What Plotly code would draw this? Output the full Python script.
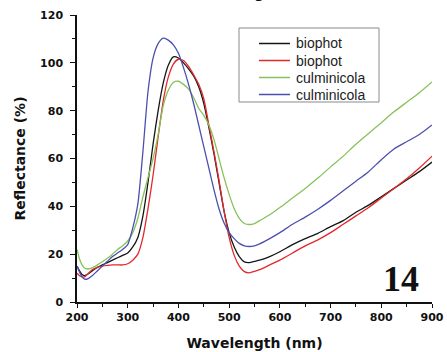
import plotly.graph_objects as go

wavelength = [200, 205, 210, 215, 220, 230, 240, 250, 260, 270, 280, 290, 300, 310, 320, 330, 340, 350,
              360, 370, 380, 390, 400, 410, 420, 430, 440, 450, 460, 470, 480, 490, 500, 510, 520, 530,
              540, 550, 560, 580, 600, 625, 650, 675, 700, 725, 750, 775, 800, 825, 850, 875, 900]

biophot_1 = [15, 13, 11.5, 11, 11.5, 13, 14.5, 15.5, 16.5, 17.5, 18.5, 19.5, 20.5, 23, 27, 36, 50, 66,
             80, 91.5, 99, 102.5, 102, 100, 97.5, 94.5, 90, 83, 73, 62, 50, 38, 29, 23, 19, 16.8,
             16.5, 17, 17.5, 19, 21, 24, 26.5, 28.7, 31.5, 34, 37.5, 40.5, 44, 47.5, 51, 54.5, 58.5]

biophot_2 = [12, 11, 10.5, 10.5, 11.5, 13.5, 14.5, 15, 15.3, 15.5, 15.5, 15.5, 16, 17.5, 20, 27, 39, 53,
             69, 84, 94, 99.5, 101.5, 101, 98.5, 95, 91, 85, 74, 63, 51, 38, 27, 19.5, 15, 12.7,
             12.2, 12.8, 13.5, 15.5, 17.5, 20.5, 23.5, 26, 29, 32.5, 36, 39.5, 43.5, 47.5, 51.5, 56, 61]

culminicola_1 = [22, 18, 15.5, 14.2, 13.8, 14.3, 15.5, 16.8, 18.3, 20, 22, 23.5, 25.5, 29, 35, 44, 52, 60,
                 70, 82, 88.5, 91.8, 92.3, 91, 89, 85.5, 81, 78, 74, 68, 60, 52, 45, 39, 35, 32.8,
                 32.4, 32.8, 34, 36.5, 39.5, 43.5, 47.5, 51.8, 56.5, 61, 66, 70.5, 75, 79.5, 83.5, 87.5, 92]

culminicola_2 = [15, 12.5, 10.5, 9.6, 9.6, 11, 13, 15, 17, 19, 20.5, 22, 24, 31, 41, 63, 88, 102,
                 108, 110.3, 109.5, 107.5, 104, 98, 91, 83, 74, 65, 56, 47, 39, 33, 29, 26.5, 24.5, 23.5,
                 23.2, 23.5, 24.3, 26.5, 29, 32.5, 35.5, 38.8, 42.5, 46.5, 50.5, 54.5, 59.5, 64, 67, 70, 74]

series_names = ["biophot", "biophot", "culminicola", "culminicola"]
series_values = [biophot_1, biophot_2, culminicola_1, culminicola_2]
series_colors = ["#151515", "#e2282b", "#86c25a", "#4b50ad"]

x_ticks = [200, 300, 400, 500, 600, 700, 800, 900]
y_ticks = [0, 20, 40, 60, 80, 100, 120]

W, H = 447, 352
ML, MR, MT, MB = 77, 15, 15, 50
PW, PH = W - ML - MR, H - MT - MB


def px_x(p):
    return (p - ML) / PW


def px_y(p):
    return 1 - (p - MT) / PH


fig = go.Figure()
for name, vals, col in zip(series_names, series_values, series_colors):
    fig.add_trace(go.Scatter(x=wavelength, y=vals, mode="lines", name=name, showlegend=False,
                             line=dict(color=col, width=1.3, shape="spline", smoothing=0.6)))

tickfont = dict(family="DejaVu Sans", size=11, color="#111", weight="bold")
titlefont = dict(family="DejaVu Sans", size=14, color="#111", weight="bold")

fig.update_layout(
    width=W, height=H,
    margin=dict(l=ML, r=MR, t=MT, b=MB),
    paper_bgcolor="white", plot_bgcolor="white",
    showlegend=False,
    xaxis=dict(range=[200, 900], tickvals=x_ticks, ticks="outside", ticklen=4, tickwidth=1.3,
               tickcolor="#111", showline=True, linecolor="#111", linewidth=1.5,
               showgrid=False, zeroline=False, tickfont=tickfont, automargin=False,
               minor=dict(ticks="outside", ticklen=3, dtick=50, tickcolor="#111", showgrid=False),
               title=dict(text="Wavelength (nm)", font=titlefont, standoff=15)),
    yaxis=dict(range=[0, 120], tickvals=y_ticks, ticks="outside", ticklen=5, tickwidth=1.3,
               tickcolor="#111", showline=True, linecolor="#111", linewidth=1.5,
               showgrid=False, zeroline=False, tickfont=tickfont, automargin=False,
               ticklabelstandoff=5,
               minor=dict(ticks="outside", ticklen=3, dtick=10, tickcolor="#111", showgrid=False),
               title=dict(text="Reflectance (%)", font=titlefont, standoff=11)),
    xaxis2=dict(range=[200, 900], overlaying="x", side="top", tickvals=x_ticks, ticks="inside",
                ticklen=4, tickcolor="#111", showline=True, linecolor="#111", linewidth=1.5,
                showticklabels=False, showgrid=False, zeroline=False, automargin=False,
                minor=dict(ticks="inside", ticklen=2, dtick=50, tickcolor="#777", showgrid=False)),
    yaxis2=dict(range=[0, 120], overlaying="y", side="right", tickvals=y_ticks, ticks="inside",
                ticklen=4, tickcolor="#111", showline=True, linecolor="#111", linewidth=1.5,
                showticklabels=False, showgrid=False, zeroline=False, automargin=False,
                minor=dict(ticks="inside", ticklen=3, dtick=10, tickcolor="#111", showgrid=False)),
)

# legend box drawn by hand to match the compact entry spacing
shapes = [dict(type="rect", xref="paper", yref="paper",
               x0=px_x(239), x1=px_x(379), y0=px_y(102), y1=px_y(28),
               line=dict(color="#8a8a8a", width=1), fillcolor="white", layer="above")]
entry_y = [43.5, 60.5, 77.5, 94.5]
for ey, col in zip(entry_y, series_colors):
    shapes.append(dict(type="line", xref="paper", yref="paper",
                       x0=px_x(259), x1=px_x(290), y0=px_y(ey), y1=px_y(ey),
                       line=dict(color=col, width=1.5), layer="above"))
fig.update_layout(shapes=shapes)
for ey, name in zip(entry_y, series_names):
    fig.add_annotation(text=name, xref="paper", yref="paper", x=px_x(294), y=px_y(ey),
                       xanchor="left", yanchor="middle", showarrow=False,
                       font=dict(family="Liberation Sans", size=14, color="#222"))

fig.add_annotation(text="Wavelength (nm)", xref="paper", yref="paper", x=0.5, y=1,
                   xanchor="center", yanchor="bottom", yshift=12, showarrow=False,
                   font=titlefont)
fig.add_annotation(text="14", xref="paper", yref="paper", x=px_x(421), y=0.0, xanchor="right",
                   yanchor="bottom", yshift=1, showarrow=False,
                   font=dict(family="Liberation Serif", size=36, color="#111", weight="bold"))

fig.write_html("out.html", config={"displayModeBar": False},
               post_script="document.body.style.margin='0';document.body.style.overflow='hidden';")
